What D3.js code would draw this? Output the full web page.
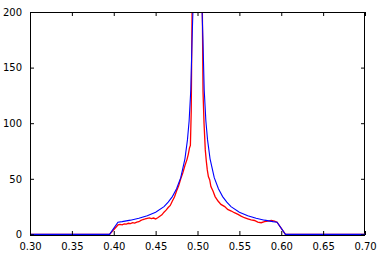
<!DOCTYPE html>
<html>
<head>
<meta charset="utf-8">
<script src="https://cdn.jsdelivr.net/npm/d3@7"></script>
<style>
  body { margin: 0; background: #fff; }
  svg text { font-family: "DejaVu Sans", sans-serif; font-size: 10px; fill: #000; }
</style>
</head>
<body>
<svg id="canvas"></svg>
<script>
const WIDTH = 383;
const HEIGHT = 256;
const M = { left: 30, top: 12, right: 18, bottom: 21 };

const xTicks = [0.3, 0.35, 0.4, 0.45, 0.5, 0.55, 0.6, 0.65, 0.7];
const yTicks = [0, 50, 100, 150, 200];

// blue curve (smooth)
const blueX = [0.30, 0.395, 0.405, 0.41, 0.42, 0.43, 0.44, 0.45, 0.46, 0.465, 0.47, 0.475, 0.48,
  0.485, 0.488, 0.49, 0.492, 0.4935, 0.4945, 0.496, 0.498, 0.4995, 0.5005, 0.502, 0.504, 0.5055,
  0.5065, 0.508, 0.51, 0.512, 0.515, 0.52, 0.525, 0.53, 0.535, 0.54, 0.55, 0.56, 0.57, 0.58,
  0.59, 0.595, 0.605, 0.70];
const blueY = [0, 0, 11, 11.5, 12.8, 14.5, 16.8, 20, 25, 29, 34, 41, 51,
  68, 85, 102, 130, 175, 200, 260, 500, 2000, 2000, 500, 260, 200,
  175, 130, 102, 85, 68, 51, 41, 34, 29, 25, 20, 16.8, 14.5, 12.8,
  11.5, 11, 0, 0];

// red curve (noisy)
const redX = [0.30, 0.395, 0.405, 0.4075, 0.41, 0.4125, 0.415, 0.4175, 0.42, 0.4225, 0.425, 0.4275,
  0.43, 0.4325, 0.435, 0.4375, 0.44, 0.4425, 0.445, 0.4475, 0.45, 0.4525, 0.455, 0.4575, 0.46,
  0.4625, 0.465, 0.4675, 0.47, 0.4725, 0.475, 0.4775, 0.48, 0.4825, 0.485, 0.4875, 0.489, 0.4905,
  0.4915, 0.4925, 0.4935, 0.495, 0.4995, 0.5005, 0.5045, 0.5058, 0.5066, 0.5078, 0.5093, 0.5105,
  0.5117, 0.513, 0.5146, 0.516, 0.5185, 0.521, 0.5245, 0.528, 0.5325, 0.536, 0.5404, 0.544, 0.5484,
  0.552, 0.556, 0.56, 0.564, 0.568, 0.572, 0.576, 0.58, 0.584, 0.588, 0.592, 0.595, 0.605, 0.70];
const redY = [0, 0, 8.5, 9, 8.6, 9.5, 9.2, 10, 9.7, 10.5, 10.1, 11,
  11.4, 12.6, 13.4, 13.9, 14.5, 14.9, 14.2, 14.7, 13.9, 15, 16.4, 17.6, 20,
  21.8, 24.2, 26, 30, 33.6, 39, 43.8, 50, 55.5, 62, 67.5, 72, 78,
  80, 110, 200, 300, 2000, 2000, 300, 200, 128, 100, 76, 66,
  58, 52, 49, 43, 39, 34, 30, 27, 25, 22.5, 21, 19.5, 18,
  16.5, 15, 14, 13, 12.5, 11, 10.5, 11.5, 12, 12.5, 12, 11, 0, 0];

const canvas = d3.select("#canvas").attr("width", WIDTH).attr("height", HEIGHT);

const xScale = d3.scaleLinear().domain([0.3, 0.7]).range([M.left, WIDTH - M.right]);
const yScale = d3.scaleLinear().domain([0, 200]).range([HEIGHT - M.bottom - 0.6, M.top]);

// frame first, lines over it (the zero line sits just above the bottom spine)
canvas.append("rect")
  .attr("x", M.left + 0.5).attr("y", M.top + 0.5)
  .attr("width", WIDTH - M.left - M.right - 1)
  .attr("height", HEIGHT - M.top - M.bottom)
  .attr("fill", "none").attr("stroke", "#000");

canvas.append("clipPath").attr("id", "plot-clip")
  .append("rect")
  .attr("x", M.left).attr("y", M.top + 1)
  .attr("width", WIDTH - M.left - M.right)
  .attr("height", HEIGHT - M.top - M.bottom - 1);

const line = d3.line().x((d) => xScale(d[0])).y((d) => yScale(d[1]));

const drawSeries = (xs, ys, color, w) => {
  canvas.append("path")
    .datum(xs.map((x, i) => [x, ys[i]]))
    .attr("clip-path", "url(#plot-clip)")
    .attr("fill", "none")
    .attr("stroke", color)
    .attr("stroke-width", w)
    .attr("d", line);
};

drawSeries(redX, redY, "#ff0000", 1.3);
drawSeries(blueX, blueY, "#0000ff", 1.1);

// axes: ticks point inward on all four sides, matplotlib classic style
const axBottom = canvas.append("g")
  .attr("transform", "translate(0," + (HEIGHT - M.bottom) + ")")
  .call(d3.axisBottom(xScale).tickValues(xTicks).tickSize(-4).tickPadding(8).tickFormat(d3.format(".2f")));
const axTop = canvas.append("g")
  .attr("transform", "translate(0," + M.top + ")")
  .call(d3.axisTop(xScale).tickValues(xTicks).tickSize(-4).tickFormat(""));
const axLeft = canvas.append("g")
  .attr("transform", "translate(" + M.left + ",0)")
  .call(d3.axisLeft(yScale).tickValues(yTicks).tickSize(-4).tickPadding(8).tickFormat(d3.format("d")));
const axRight = canvas.append("g")
  .attr("transform", "translate(" + (WIDTH - M.right) + ",0)")
  .call(d3.axisRight(yScale).tickValues(yTicks).tickSize(-4).tickFormat(""));

[axBottom, axTop, axLeft, axRight].forEach((g) => {
  g.select(".domain").remove();
  g.selectAll("text").attr("font-family", "DejaVu Sans").attr("font-size", 10).attr("fill", "#000");
  g.selectAll("line").attr("stroke", "#000");
});
</script>
</body>
</html>
